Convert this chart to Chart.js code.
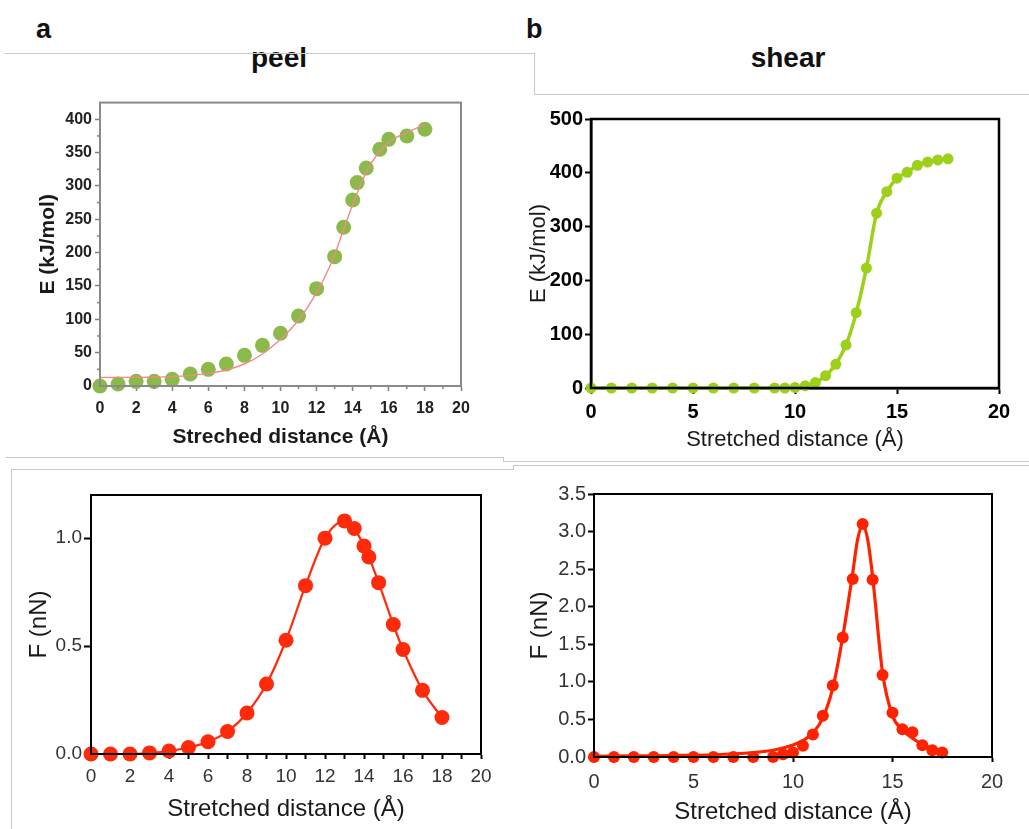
<!DOCTYPE html>
<html>
<head>
<meta charset="utf-8">
<script src="https://cdn.jsdelivr.net/npm/chart.js@4.4.1/dist/chart.umd.min.js"></script>
<style>
  html, body { margin: 0; padding: 0; background: #fff; }
  body { width: 1029px; height: 829px; position: relative; overflow: hidden; font-family: "Liberation Sans", Arial, sans-serif; }
  .cv { position: absolute; }
  .lbl { position: absolute; font-weight: bold; color: #111; line-height: 1; white-space: nowrap; }
  .ln { position: absolute; background: #c8c8c8; }
</style>
</head>
<body>
<div class="lbl" style="left:36px;top:16px;font-size:27px;">a</div>
<div class="lbl" style="left:526px;top:16px;font-size:27px;">b</div>
<div class="lbl" style="left:279px;top:44px;font-size:28px;transform:translateX(-50%);">peel</div>
<div class="lbl" style="left:788px;top:44px;font-size:28px;transform:translateX(-50%);">shear</div>

<div class="ln" style="left:5px;top:53px;width:530px;height:1px;"></div>
<div class="ln" style="left:534px;top:53px;width:1px;height:42px;"></div>
<div class="ln" style="left:534px;top:94px;width:495px;height:1px;"></div>

<div class="ln" style="left:6px;top:457px;width:498px;height:1px;"></div>
<div class="ln" style="left:503px;top:457px;width:1px;height:5px;"></div>
<div class="ln" style="left:503px;top:461px;width:526px;height:1px;"></div>
<div class="ln" style="left:11px;top:469px;width:503px;height:1px;"></div>
<div class="ln" style="left:11px;top:469px;width:1px;height:360px;"></div>
<div class="ln" style="left:513px;top:465px;width:1px;height:5px;"></div>
<div class="ln" style="left:513px;top:465px;width:516px;height:1px;"></div>

<canvas id="c1" class="cv" style="left:25px;top:90px;" width="455" height="370"></canvas>
<canvas id="c2" class="cv" style="left:520px;top:105px;" width="509" height="355"></canvas>
<canvas id="c3" class="cv" style="left:20px;top:480px;" width="480" height="349"></canvas>
<canvas id="c4" class="cv" style="left:515px;top:480px;" width="514" height="349"></canvas>

<script>
// ---------- data ----------
const peelX      = [0,1,2,3,4,5,6,7,8,9,10,11,12,13,13.5,14,14.25,14.75,15.5,16,17,18];
const peelE      = [0,3,7,7,10,18,25,33,46,61,79,105,146,194,238,279,305,327,355,370,375,385];
const peelFitX   = [0,2,4,6,7,8,9,10,11,12,12.5,13,13.5,14,14.5,15,15.5,16,17,18];
const peelFitE   = [13,13,14,19,24,33,48,70,99,140,166,197,235,272,306,333,352,366,380,392];
const peelF      = [0,0,0,0.005,0.014,0.03,0.057,0.104,0.19,0.324,0.527,0.78,1.0,1.08,1.045,0.964,0.913,0.794,0.6,0.484,0.295,0.169];

const shearX     = [0,1,2,3,4,5,6,7,8,9,9.5,10,10.5,11,11.5,12,12.5,13,13.5,14,14.5,15,15.5,16,16.5,17,17.5];
const shearE     = [0,0,0,0,0,0,0,0,0,0,0,1,4,10,23,44,80,140,223,325,365,390,401,414,420,424,426];
const shearF     = [0,0,0,0,0,0,0,0,0,0,0.035,0.06,0.15,0.3,0.55,0.95,1.59,2.37,3.1,2.36,1.09,0.59,0.37,0.33,0.155,0.09,0.06];
const shearFitX  = [0,2,4,6,8,9,10,10.5,11,11.5,12,12.5,13,13.25,13.5,13.75,14,14.5,15,15.5,16,16.5,17,17.5];
const shearFitF  = [0.01,0.015,0.02,0.03,0.06,0.09,0.16,0.22,0.32,0.52,0.92,1.6,2.45,2.9,3.08,2.9,2.4,1.12,0.55,0.36,0.25,0.17,0.11,0.07];

const peelYTicks   = [0,50,100,150,200,250,300,350,400];
const peelYMinor   = [25,75,125,175,225,275,325,375];
const peelXMinor   = [1,3,5,7,9,11,13,15,17,19];
const peelFTicks   = [0,0.5,1.0];
const shearFTicks  = [0,0.5,1,1.5,2,2.5,3,3.5];

const xyOf = (xs, ys) => xs.map((x, i) => ({x, y: ys[i]}));

// ---------- plugins ----------
const framePlugin = {
  id: 'frame',
  afterDatasetsDraw(chart, args, opts) {
    const a = chart.chartArea, c = chart.ctx;
    c.save();
    c.strokeStyle = opts.color || '#000';
    c.lineWidth = opts.width || 2;
    c.strokeRect(a.left, a.top, a.right - a.left, a.bottom - a.top);
    c.restore();
  }
};
const minorPlugin = {
  id: 'minor',
  afterDatasetsDraw(chart, args, opts) {
    if (!opts || !opts.enabled) return;
    const c = chart.ctx;
    c.save();
    c.strokeStyle = opts.color; c.lineWidth = opts.width;
    const ys = chart.scales.y, xs = chart.scales.x;
    (opts.yMinor || []).forEach(v => {
      const p = ys.getPixelForValue(v);
      c.beginPath(); c.moveTo(ys.right - opts.len, p); c.lineTo(ys.right, p); c.stroke();
    });
    (opts.xMinor || []).forEach(v => {
      const p = xs.getPixelForValue(v);
      c.beginPath(); c.moveTo(p, xs.top); c.lineTo(p, xs.top + opts.len); c.stroke();
    });
    c.restore();
  }
};
Chart.register(framePlugin, minorPlugin);
Chart.defaults.font.family = '"Liberation Sans", Arial, sans-serif';
Chart.defaults.animation = false;
Chart.defaults.responsive = false;
Chart.defaults.plugins.legend.display = false;
Chart.defaults.plugins.tooltip.enabled = false;

function axis(o) {
  return {
    type: 'linear', min: o.min, max: o.max,
    afterFit: s => { if (o.w) s.width = o.w; if (o.h) s.height = o.h; },
    afterBuildTicks: o.ticksAt ? (s => { s.ticks = o.ticksAt.map(v => ({value: v})); }) : undefined,
    grid: { drawOnChartArea: false, drawTicks: true, tickLength: o.tl, tickWidth: o.tw, tickColor: o.col },
    border: { display: true, color: o.col, width: o.bw },
    ticks: { stepSize: o.step, padding: o.pad, color: o.tcol, font: o.tfont, autoSkip: false, maxRotation: 0,
             callback: o.fmt },
    title: { display: true, text: o.title, color: '#1a1a1a', font: o.titleFont, padding: o.titlePad }
  };
}

// ---------- chart 1: peel E ----------
new Chart(document.getElementById('c1'), {
  type: 'scatter',
  data: { datasets: [
    { data: xyOf(peelFitX, peelFitE), showLine: true, cubicInterpolationMode: 'monotone', borderColor: '#f08a8a', borderWidth: 1.4, pointRadius: 0, clip: false },
    { data: xyOf(peelX, peelE), pointRadius: 7.5, pointBackgroundColor: '#8cba4a', pointBorderWidth: 0, clip: false }
  ]},
  options: {
    layout: { padding: { top: 10, right: 19, left: 0, bottom: 0 } },
    scales: {
      x: axis({min: 0, max: 20, step: 2, h: 74, tl: 5, tw: 1.5, col: '#808080', bw: 2, pad: 8, tcol: '#222',
               tfont: {size: 16, weight: 'bold'}, title: 'Streched distance (Å)', titleFont: {size: 21, weight: 'bold'}, titlePad: {top: 0, bottom: 10}}),
      y: axis({min: 0, max: 425, step: 50, w: 75, tl: 5, tw: 1.5, col: '#808080', bw: 2, pad: 3, tcol: '#222',
               ticksAt: peelYTicks,
               tfont: {size: 16, weight: 'bold'}, title: 'E (kJ/mol)', titleFont: {size: 21, weight: 'bold'}, titlePad: {top: 11, bottom: 0}})
    },
    plugins: { frame: { color: '#8a8a8a', width: 2 },
               minor: { enabled: true, color: '#808080', width: 1.5, len: 3, yMinor: peelYMinor, xMinor: peelXMinor } }
  }
});

// ---------- chart 2: shear E ----------
new Chart(document.getElementById('c2'), {
  type: 'scatter',
  data: { datasets: [
    { data: xyOf(shearX, shearE), showLine: true, cubicInterpolationMode: 'monotone', borderColor: '#9dd018', borderWidth: 3.5,
      pointRadius: 5.5, pointBackgroundColor: '#9dd018', pointBorderWidth: 0, clip: false }
  ]},
  options: {
    layout: { padding: { top: 12, right: 30, left: 0, bottom: 0 } },
    scales: {
      x: axis({min: 0, max: 20, step: 5, h: 72, tl: 6, tw: 2, col: '#000', bw: 2.5, pad: 6, tcol: '#000',
               tfont: {size: 20, weight: 'bold'}, title: 'Stretched distance (Å)', titleFont: {size: 22}, titlePad: {top: 0, bottom: 7}}),
      y: axis({min: 0, max: 500, step: 100, w: 71, tl: 6, tw: 2, col: '#000', bw: 2.5, pad: 2, tcol: '#000',
               tfont: {size: 20, weight: 'bold'}, title: 'E (kJ/mol)', titleFont: {size: 22}, titlePad: {top: 6, bottom: 0}})
    },
    plugins: { frame: { color: '#000', width: 2.5 } }
  }
});

// ---------- chart 3: peel F ----------
new Chart(document.getElementById('c3'), {
  type: 'scatter',
  data: { datasets: [
    { data: xyOf(peelX, peelF), showLine: true, cubicInterpolationMode: 'monotone', borderColor: '#ff2a0a', borderWidth: 2.2,
      pointRadius: 7.5, pointBackgroundColor: '#ff2a0a', pointBorderWidth: 0, clip: false }
  ]},
  options: {
    layout: { padding: { top: 15, right: 19, left: 0, bottom: 0 } },
    scales: {
      x: axis({min: 0, max: 20, step: 1, h: 75, tl: 5, tw: 2, col: '#000', bw: 2, pad: 6, tcol: '#333',
               fmt: v => (v % 2 === 0 ? String(v) : ''),
               tfont: {size: 19}, title: 'Stretched distance (Å)', titleFont: {size: 24}, titlePad: {top: 0, bottom: 5}}),
      y: axis({min: 0, max: 1.2, step: 0.5, w: 71, tl: 7, tw: 2, col: '#000', bw: 2, pad: 2, tcol: '#333',
               ticksAt: peelFTicks, fmt: v => Number(v).toFixed(1),
               tfont: {size: 19}, title: 'F (nN)', titleFont: {size: 24}, titlePad: {top: 5, bottom: 0}})
    },
    plugins: { frame: { color: '#000', width: 2 } }
  }
});

// ---------- chart 4: shear F ----------
new Chart(document.getElementById('c4'), {
  type: 'scatter',
  data: { datasets: [
    { data: xyOf(shearFitX, shearFitF), showLine: true, cubicInterpolationMode: 'monotone', borderColor: '#ff2200', borderWidth: 3.2, pointRadius: 0, clip: false },
    { data: xyOf(shearX, shearF), pointRadius: 6, pointBackgroundColor: '#ff2200', pointBorderWidth: 0, clip: false }
  ]},
  options: {
    layout: { padding: { top: 13, right: 37, left: 0, bottom: 0 } },
    scales: {
      x: axis({min: 0, max: 20, step: 5, h: 72, tl: 5, tw: 2, col: '#000', bw: 2, pad: 8, tcol: '#333',
               tfont: {size: 20}, title: 'Stretched distance (Å)', titleFont: {size: 24}, titlePad: {top: 0, bottom: 2}}),
      y: axis({min: 0, max: 3.5, step: 0.5, w: 79, tl: 6, tw: 2, col: '#000', bw: 2, pad: 2, tcol: '#333',
               ticksAt: shearFTicks, fmt: v => Number(v).toFixed(1),
               tfont: {size: 20}, title: 'F (nN)', titleFont: {size: 24}, titlePad: {top: 11, bottom: 0}})
    },
    plugins: { frame: { color: '#000', width: 2 } }
  }
});
</script>
</body>
</html>
